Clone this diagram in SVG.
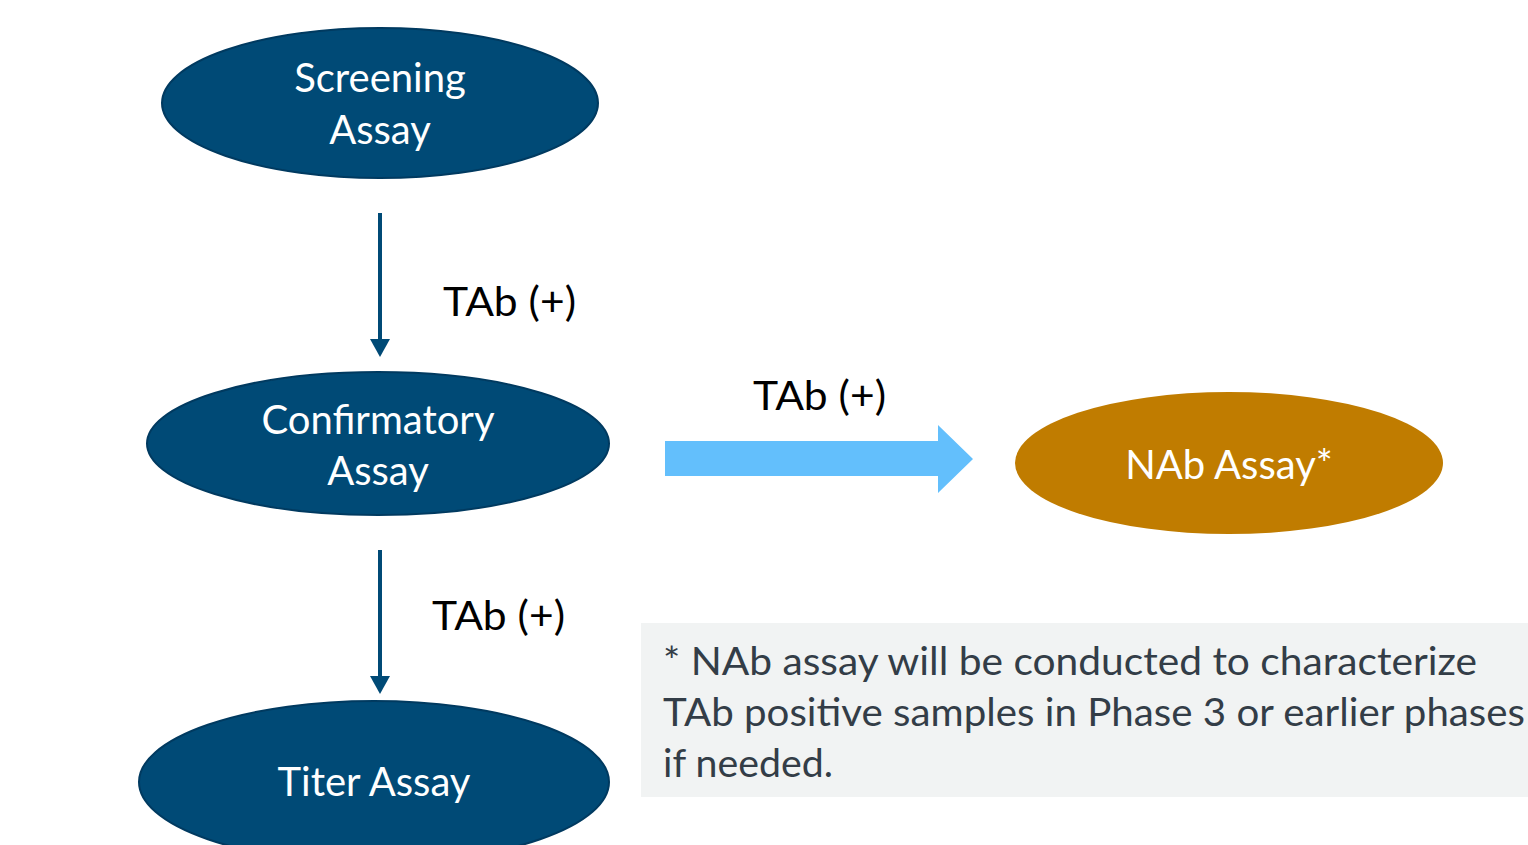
<svg xmlns="http://www.w3.org/2000/svg" width="1528" height="845" viewBox="0 0 1528 845">
<style>
.node{fill:#004a76;stroke:#003a60;stroke-width:2}
.nab{fill:#c07c00}
.nt{font-family:Lato,"Open Sans","Liberation Sans",sans-serif;font-size:40px;fill:#ffffff;text-anchor:middle}
.lbl{font-family:Lato,"Open Sans","Liberation Sans",sans-serif;font-size:40px;fill:#000000}
.note{font-family:Lato,"Open Sans","Liberation Sans",sans-serif;font-size:38px;fill:#333d47}
.conn{stroke:#004a76;stroke-width:4;fill:none}
</style>
<defs>
<marker id="ah" markerWidth="5" markerHeight="5" refX="0" refY="2.5" orient="auto" markerUnits="strokeWidth">
<path d="M0,0 L4.5,2.5 L0,5 Z" fill="#004a76"/>
</marker>
</defs>
<rect width="1528" height="845" fill="#ffffff"/>
<g id="connectors">
<line class="conn" x1="380" y1="213" x2="380" y2="339" marker-end="url(#ah)"/>
<line class="conn" x1="380" y1="550" x2="380" y2="676" marker-end="url(#ah)"/>
<path d="M665,441 L938,441 L938,425 L973,459 L938,493 L938,476 L665,476 Z" fill="#63bffc"/>
<text class="lbl" x="443" y="316" textLength="133" lengthAdjust="spacingAndGlyphs">TAb (+)</text>
<text class="lbl" x="753" y="410" textLength="133" lengthAdjust="spacingAndGlyphs">TAb (+)</text>
<text class="lbl" x="432" y="630" textLength="133" lengthAdjust="spacingAndGlyphs">TAb (+)</text>
</g>
<g id="screening">
<ellipse class="node" cx="380" cy="103" rx="218" ry="75"/>
<text class="nt" x="380" y="92">Screening</text>
<text class="nt" x="380" y="144">Assay</text>
</g>
<g id="confirmatory">
<ellipse class="node" cx="378" cy="443.5" rx="231" ry="71.5"/>
<text class="nt" x="378" y="434">Confirmatory</text>
<text class="nt" x="378" y="485">Assay</text>
</g>
<g id="titer">
<ellipse class="node" cx="374" cy="782" rx="235" ry="81"/>
<text class="nt" x="374" y="796">Titer Assay</text>
</g>
<g id="nab">
<ellipse class="nab" cx="1229" cy="463" rx="214" ry="71"/>
<text class="nt" x="1229" y="479">NAb Assay*</text>
</g>
<g id="note">
<rect x="641" y="623" width="887" height="174" fill="#f1f3f3"/>
<text class="note" x="663" y="675" textLength="814" lengthAdjust="spacingAndGlyphs">* NAb assay will be conducted to characterize</text>
<text class="note" x="663" y="726" textLength="862" lengthAdjust="spacingAndGlyphs">TAb positive samples in Phase 3 or earlier phases</text>
<text class="note" x="663" y="777" textLength="170" lengthAdjust="spacingAndGlyphs">if needed.</text>
</g>
</svg>
